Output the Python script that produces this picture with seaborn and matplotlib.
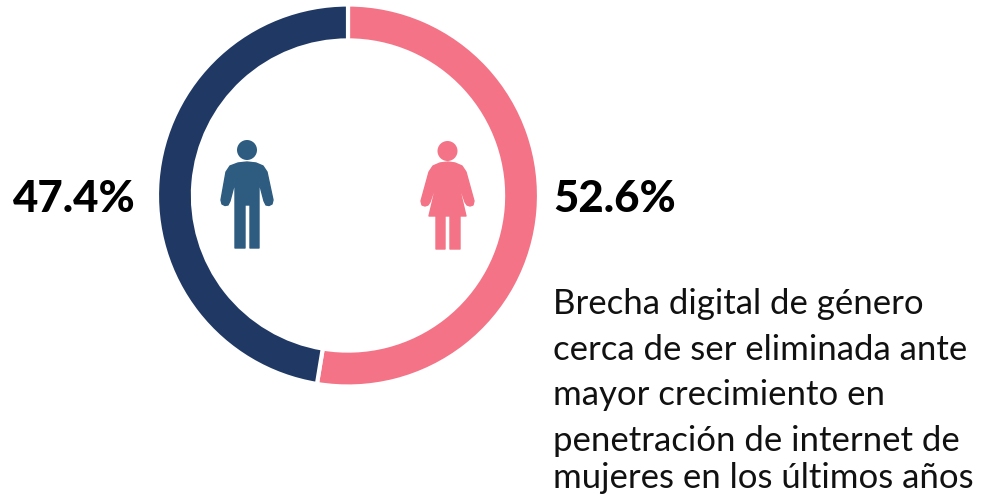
import matplotlib
matplotlib.use('Agg')
import matplotlib.pyplot as plt
import numpy as np
import seaborn as sns
from matplotlib.patches import Circle, Polygon

# Data
genders = ['Mujeres', 'Hombres']
shares = [52.6, 47.4]
share_labels = ['52.6%', '47.4%']
colors = ['#F47386', '#1F3864']
note_lines = [
    'Brecha digital de género',
    'cerca de ser eliminada ante',
    'mayor crecimiento en',
    'penetración de internet de',
    'mujeres en los últimos años',
]
note_y = [304, 350, 395, 441, 478]

W, H = 982, 500

# Icon outlines in pixels, measured on the picture
man_xy = [(247, 162), (238, 163), (230, 166), (226, 172), (221, 200), (222, 204), (225, 205.5),
          (228, 205), (230, 201), (235, 182), (235, 248), (245, 248), (245, 205),
          (250, 205), (250, 248), (259, 248), (259, 182), (264, 201), (266, 205),
          (269, 205.5), (272, 204), (273, 200), (267, 172), (263, 166), (256, 163)]
woman_xy = [(448, 162), (440, 163), (433, 166), (429, 172), (421, 201), (422, 205), (425, 206),
            (428, 205), (430, 202), (438, 178), (429, 216), (436, 216), (436, 249),
            (445, 249), (445, 216), (450, 216), (450, 249), (460, 249), (460, 216),
            (466, 216), (457, 178), (465, 202), (467, 205), (470, 206), (473, 205),
            (474, 201), (466, 172), (462, 166), (455, 163)]

sns.set_theme(style='white')
plt.rcParams['font.family'] = ['Lato', 'DejaVu Sans']

fig = plt.figure(figsize=(W / 100, H / 100), dpi=100)

# Full figure canvas in pixels for icons and text
canvas = fig.add_axes([0, 0, 1, 1])
canvas.set_xlim(0, W)
canvas.set_ylim(H, 0)
canvas.axis('off')

# Donut
cx, cy, r = 348, 195.5, 191
ax = fig.add_axes([(cx - r) / W, 1 - (cy + r) / H, 2 * r / W, 2 * r / H])
ax.pie(
    shares,
    colors=colors,
    startangle=90,
    counterclock=False,
    radius=1,
    wedgeprops={'width': 0.188, 'edgecolor': 'white', 'linewidth': 3},
)
ax.set_xlim(-1, 1)
ax.set_ylim(-1, 1)
ax.patch.set_alpha(0)

# Icons
canvas.add_patch(Polygon(man_xy, closed=True, fc='#2E5C80', ec='#2E5C80', lw=1, joinstyle='round'))
canvas.add_patch(Circle((247, 150), 10, fc='#2E5C80', ec='none'))
canvas.add_patch(Polygon(woman_xy, closed=True, fc='#F47386', ec='#F47386', lw=1, joinstyle='round'))
canvas.add_patch(Circle((447.5, 151), 10, fc='#F47386', ec='none'))

# Labels
canvas.text(615, 199, share_labels[0], fontsize=31.5, fontweight='black', color='black',
            ha='center', va='center')
canvas.text(74, 199, share_labels[1], fontsize=31.5, fontweight='black', color='black',
            ha='center', va='center')

for line, y in zip(note_lines, note_y):
    canvas.text(553, y, line, fontsize=25, color='#111111', ha='left', va='center')

fig.savefig('out.png', dpi=100)
